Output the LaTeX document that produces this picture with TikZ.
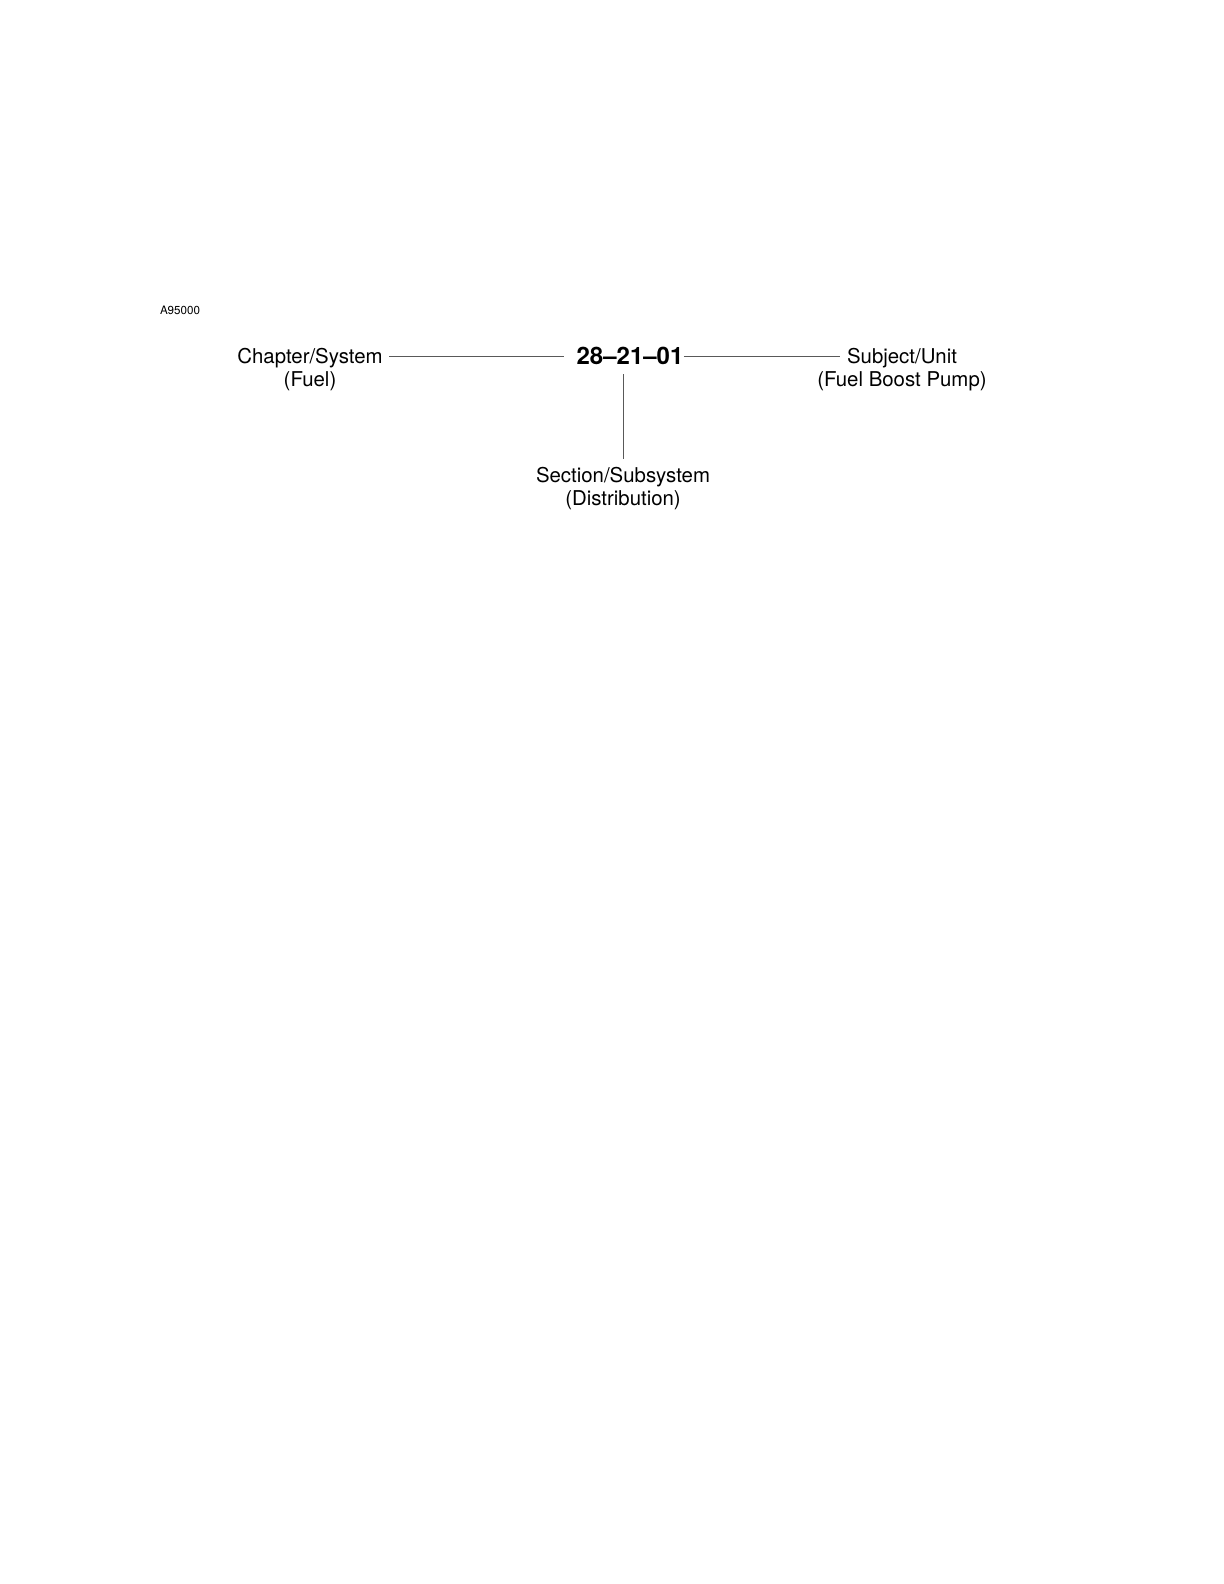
\documentclass[tikz,border=0pt]{standalone}
\usepackage{fontspec}
\setmainfont{TeX Gyre Heros}
\usetikzlibrary{positioning}

\begin{document}
\begin{tikzpicture}[
	x=0.5pt, y=-0.5pt,
	node distance=4pt,
	every node/.style={inner sep=0pt, align=center, text depth=0pt},
	lbl/.style={font=\fontsize{10.2}{11}\selectfont, text height=7.3pt},
	code/.style={font=\fontsize{12}{14}\selectfont\bfseries, text height=8.6pt},
	tag/.style={font=\fontsize{5.8}{7}\selectfont, text height=4.2pt},
	conn/.style={draw=black!65, line width=0.5pt}
	]

		\useasboundingbox (0,0) rectangle (1224,1584);

		% Nodes
		\node[tag] (fig) at (180,310) {A95000};
		\node[code] (num) at (630,356) {28--21--01};
		\node[lbl] (chap) at (310,356) {Chapter/System};
		\node[lbl, below=of chap] (chapsub) {(Fuel)};
		\node[lbl] (subj) at (902,356) {Subject/Unit};
		\node[lbl, below=of subj] (subjsub) {(Fuel Boost Pump)};
		\node[lbl] (sec) at (623,475) {Section/Subsystem};
		\node[lbl, below=of sec] (secsub) {(Distribution)};

		% Connectors
		\draw[conn, shorten <=3pt, shorten >=6pt] (chap.east) -- (num.west);
		\draw[conn, shorten >=3.5pt] (num.east) -- (subj.west);
		\draw[conn, shorten <=4.5pt, shorten >=4pt] (num.south -| sec.north) -- (sec.north);
	\end{tikzpicture}
\end{document}
